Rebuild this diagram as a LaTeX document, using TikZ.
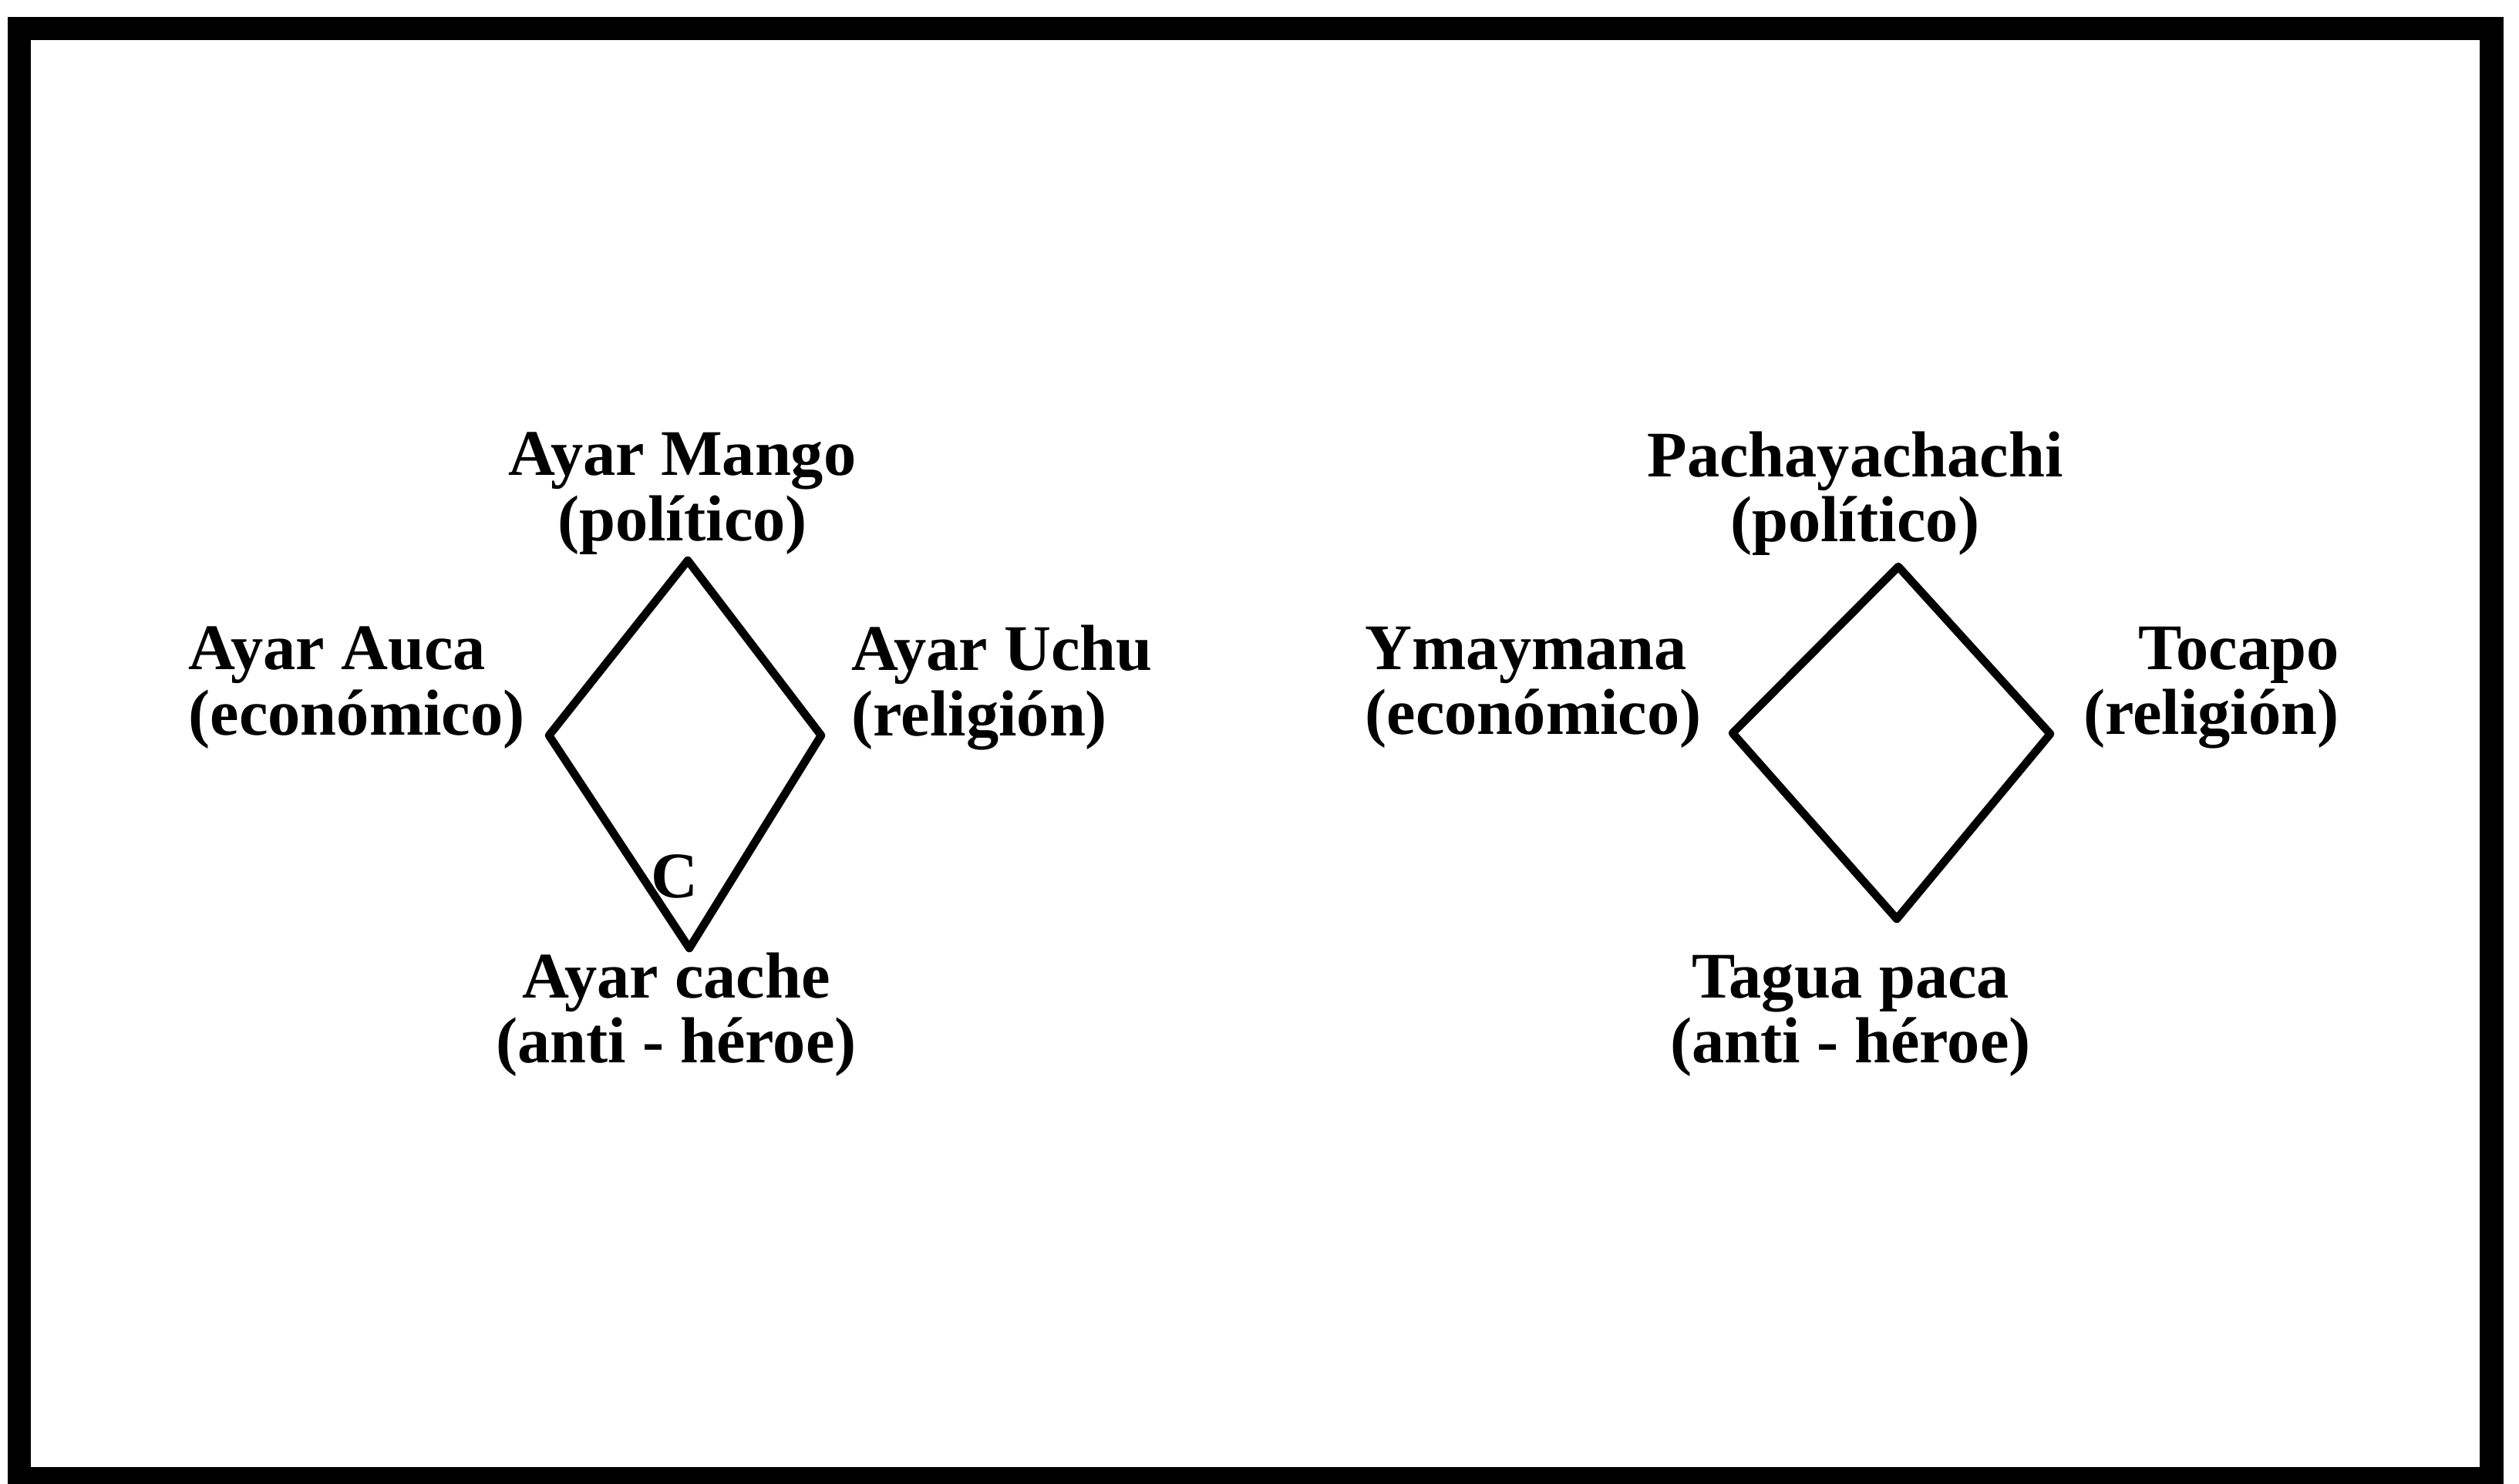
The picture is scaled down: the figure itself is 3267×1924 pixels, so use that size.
\documentclass[tikz,border=0pt]{standalone}
\usepackage{fontspec}
\setmainfont{Liberation Serif}
\begin{document}
\begin{tikzpicture}[x=0.01cm,y=-0.01cm,
  lbl/.style={inner sep=0pt,font=\fontsize{24}{24}\selectfont\bfseries},
  edge/.style={line width=3pt,line join=round,line cap=round}]
\useasboundingbox (0,0) rectangle (3267,1924);
\fill[white] (0,0) rectangle (3267,1924);
% frame
\draw[line width=8.8pt,line join=miter] (25,37) rectangle (3231,1918);

% left diamond
\coordinate (lt) at (892,727);
\coordinate (ll) at (712,954);
\coordinate (lr) at (1065,954);
\coordinate (lb) at (894,1230);
\draw[edge] (lt) -- (lr) -- (lb) -- (ll) -- cycle;

\node[lbl,align=center] (mango) at (885,640) {Ayar Mango\\(político)};
\node[lbl,align=left,anchor=west] (auca) at (244,892) {Ayar Auca\\(económico)};
\node[lbl,align=left,anchor=west] (uchu) at (1104,892) {Ayar Uchu\\(religión)};
\node[lbl,align=center] (cache) at (877,1316) {Ayar cache\\(anti - héroe)};
\node[lbl] (c) at (875,1137) {C};

% right diamond
\coordinate (rt) at (2462,735);
\coordinate (rl) at (2247,951);
\coordinate (rr) at (2659,952);
\coordinate (rb) at (2460,1192);
\draw[edge] (rt) -- (rr) -- (rb) -- (rl) -- cycle;

\node[lbl,align=center] (pacha) at (2406,640) {Pachayachachi\\(político)};
\node[lbl,align=left,anchor=west] (ymay) at (1770,892) {Ymaymana\\(económico)};
\node[lbl,align=right,anchor=east] (toca) at (3034,892) {Tocapo\\(religión)};
\node[lbl,align=center] (tagua) at (2400,1318) {Tagua paca\\(anti - héroe)};
\end{tikzpicture}
\end{document}
